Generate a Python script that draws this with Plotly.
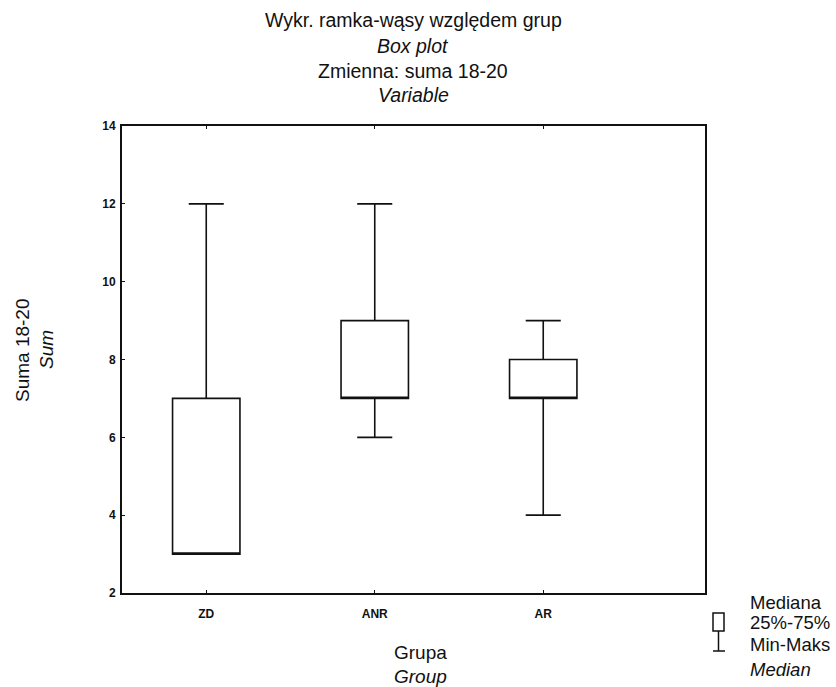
import plotly.graph_objects as go

groups = ["ZD", "ANR", "AR"]
minimum = [3, 6, 4]
q1 = [3, 7, 7]
median = [3, 7, 7]
q3 = [7, 9, 8]
maximum = [12, 12, 9]
y_ticks = [2, 4, 6, 8, 10, 12, 14]

FONT = "Liberation Sans, Arial, sans-serif"
TICKFONT = dict(family="Liberation Sans Narrow, Arial Narrow, Liberation Sans, Arial",
                size=12, color="#111", weight="bold")

fig = go.Figure()
fig.add_trace(go.Box(
    x=groups,
    q1=q1, median=median, q3=q3,
    lowerfence=minimum, upperfence=maximum,
    width=0.4,
    whiskerwidth=0.52,
    fillcolor="white",
    line=dict(color="#111", width=1.6),
    boxpoints=False,
    showlegend=False,
    hoverinfo="y",
))

W, H = 836, 687
L, R, T, B = 122, 705, 126, 593


def px(x):
    return (x - L) / (R - L)


def py(y):
    return (B - y) / (B - T)


annotations = []
title_lines = [("Wykr. ramka-wąsy względem grup", False, 20),
               ("Box plot", True, 46),
               ("Zmienna: suma 18-20", False, 71),
               ("Variable", True, 95)]
for txt, it, y in title_lines:
    annotations.append(dict(
        text=f"<i>{txt}</i>" if it else txt, x=px(413), y=py(y), xref="paper", yref="paper",
        showarrow=False, xanchor="center", yanchor="middle",
        font=dict(family=FONT, size=19.5, color="#111")))

annotations.append(dict(text="Grupa", x=px(420), y=py(652), xref="paper", yref="paper",
                        showarrow=False, xanchor="center", yanchor="middle",
                        font=dict(family=FONT, size=19, color="#111")))
annotations.append(dict(text="<i>Group</i>", x=px(420), y=py(676), xref="paper", yref="paper",
                        showarrow=False, xanchor="center", yanchor="middle",
                        font=dict(family=FONT, size=19, color="#111")))
annotations.append(dict(text="Suma 18-20", x=px(22), y=py(350), xref="paper", yref="paper",
                        showarrow=False, xanchor="center", yanchor="middle", textangle=-90,
                        font=dict(family=FONT, size=19, color="#111")))
annotations.append(dict(text="<i>Sum</i>", x=px(46), y=py(350), xref="paper", yref="paper",
                        showarrow=False, xanchor="center", yanchor="middle", textangle=-90,
                        font=dict(family=FONT, size=19, color="#111")))

legend_lines = [("Mediana", False, 602), ("25%-75%", False, 622),
                ("Min-Maks", False, 644), ("Median", True, 669)]
for txt, it, y in legend_lines:
    annotations.append(dict(
        text=f"<i>{txt}</i>" if it else txt, x=px(748), y=py(y), xref="paper", yref="paper",
        showarrow=False, xanchor="left", yanchor="middle",
        font=dict(family=FONT, size=18.5, color="#111")))

shapes = [
    dict(type="rect", xref="paper", yref="paper", x0=px(713), x1=px(724), y0=py(631), y1=py(613),
         line=dict(color="#111", width=1.5)),
    dict(type="line", xref="paper", yref="paper", x0=px(718.5), x1=px(718.5), y0=py(631), y1=py(651),
         line=dict(color="#111", width=1.5)),
    dict(type="line", xref="paper", yref="paper", x0=px(713), x1=px(725), y0=py(651), y1=py(651),
         line=dict(color="#111", width=1.5)),
]

fig.update_layout(
    width=W, height=H,
    margin=dict(l=L, r=W - R, t=T, b=H - B, pad=0),
    paper_bgcolor="white", plot_bgcolor="white",
    annotations=annotations, shapes=shapes,
    xaxis=dict(type="category", range=[-0.5, 2.96], showgrid=False, zeroline=False,
               showline=True, linecolor="#111", linewidth=2, mirror="ticks",
               ticks="inside", ticklen=3, tickcolor="#111", tickfont=TICKFONT,
               ticklabelstandoff=9),
    yaxis=dict(range=[2, 14], tickvals=y_ticks, showgrid=False, zeroline=False,
               showline=True, linecolor="#111", linewidth=2, mirror=True,
               ticks="inside", ticklen=3, tickcolor="#111", tickfont=TICKFONT, ticklabelstandoff=2),
)

fig.write_html("out.html", config={"displayModeBar": False})
with open("out.html", encoding="utf-8") as f:
    html = f.read()
html = html.replace("<head>", "<head><style>html,body{margin:0;padding:0;overflow:hidden;}</style>", 1)
with open("out.html", "w", encoding="utf-8") as f:
    f.write(html)
